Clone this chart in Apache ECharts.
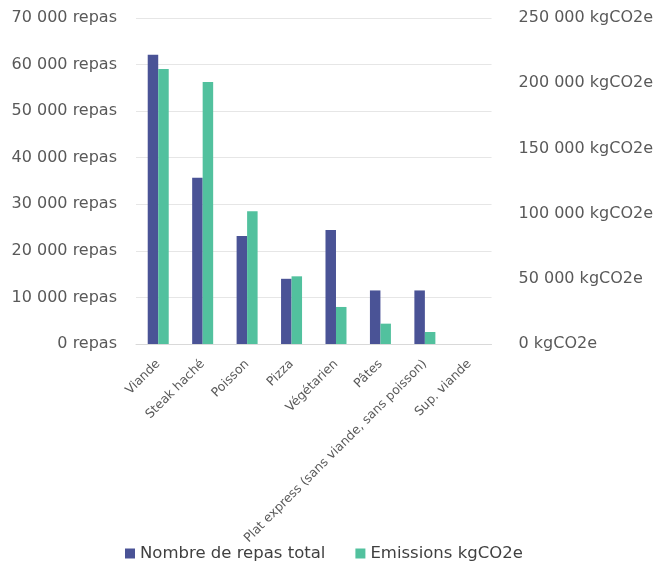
<!DOCTYPE html>
<html>
<head>
<meta charset="utf-8">
<script src="https://cdn.jsdelivr.net/npm/echarts@6/dist/echarts.min.js"></script>
<style>
  html, body { margin: 0; padding: 0; background: #fff; }
  #chart { width: 656px; height: 563px; }
</style>
</head>
<body>
<div id="chart"></div>
<script>
const categories = ['Viande', 'Steak haché', 'Poisson', 'Pizza', 'Végétarien', 'Pâtes',
  'Plat express (sans viande, sans poisson)', 'Sup. viande']
const repas = [62100, 35700, 23200, 14000, 24500, 11500, 11500, 0]
const emissions = [210900, 200900, 101800, 51900, 28400, 15600, 9200, 0]

const font = 'DejaVu Sans'
function spaced(v) {
  return String(v).replace(/\B(?=(\d{3})+(?!\d))/g, ' ')
}

let myChart = echarts.init(document.getElementById('chart'))
let option = {
  animation: false,
  textStyle: { fontFamily: font },
  grid: { left: 136, right: 163, top: 18, bottom: 219 },
  legend: {
    top: 540,
    left: 120,
    icon: 'rect',
    itemWidth: 10,
    itemHeight: 10,
    itemGap: 30,
    textStyle: { color: '#404040', fontSize: 16.5, fontFamily: font },
    data: ['Nombre de repas total', 'Emissions kgCO2e']
  },
  xAxis: {
    type: 'category',
    data: categories,
    axisTick: { show: false },
    axisLine: { lineStyle: { color: '#d9d9d9' } },
    axisLabel: {
      rotate: 45,
      interval: 0,
      color: '#595959',
      fontSize: 12.5,
      margin: 18
    }
  },
  yAxis: [
    {
      type: 'value',
      min: 0, max: 70000, interval: 10000,
      axisLine: { show: false },
      axisTick: { show: false },
      splitLine: { lineStyle: { color: '#e6e6e6' } },
      axisLabel: {
        color: '#595959', fontSize: 16, margin: 19,
        formatter: function (v) { return spaced(v) + ' repas' }
      }
    },
    {
      type: 'value',
      min: 0, max: 250000, interval: 50000,
      axisLine: { show: false },
      axisTick: { show: false },
      splitLine: { show: false },
      axisLabel: {
        color: '#595959', fontSize: 16, margin: 27,
        formatter: function (v) { return spaced(v) + ' kgCO2e' }
      }
    }
  ],
  series: [
    {
      name: 'Nombre de repas total',
      type: 'bar',
      data: repas,
      yAxisIndex: 0,
      barWidth: 10.5,
      barGap: '0%',
      itemStyle: { color: '#4a5396' }
    },
    {
      name: 'Emissions kgCO2e',
      type: 'bar',
      data: emissions,
      yAxisIndex: 1,
      barWidth: 10.5,
      barGap: '0%',
      itemStyle: { color: '#52c19e' }
    }
  ]
}
myChart.setOption(option)
</script>
</body>
</html>
